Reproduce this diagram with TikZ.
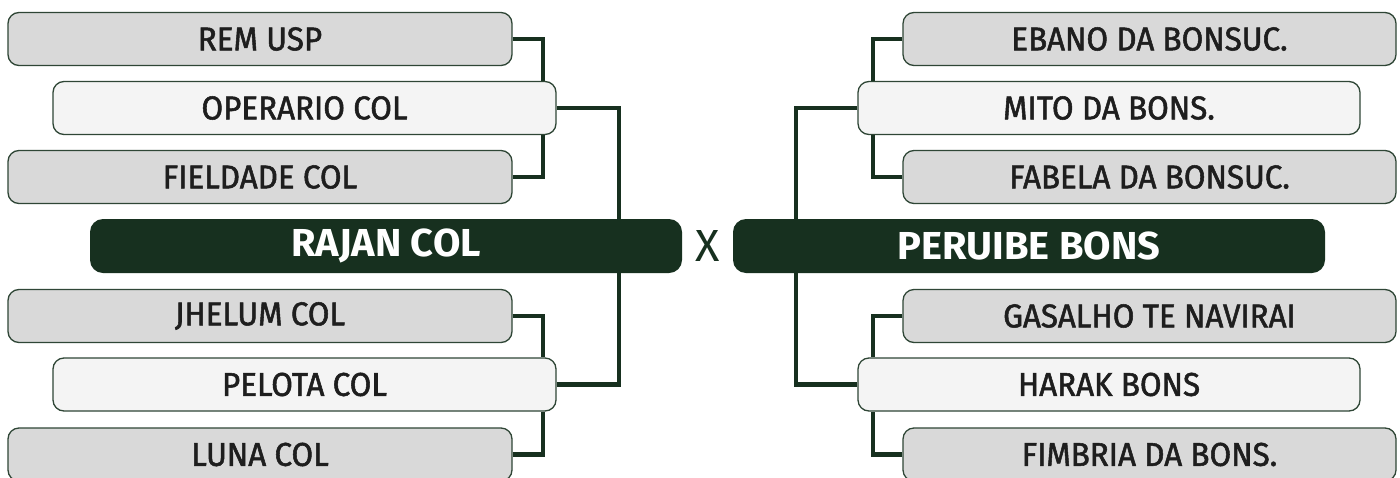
\documentclass[tikz,border=0pt]{standalone}
\usepackage{fontspec}
\setmainfont{Fira Sans}
\newfontfamily\medf{Fira Sans}[FakeStretch=0.95, FakeBold=1.6]
\newfontfamily\boldf{Fira Sans}[FakeStretch=1.02]
\definecolor{dkgreen}{HTML}{17301F}
\definecolor{boxgray}{HTML}{D9D9D9}
\definecolor{boxlight}{HTML}{F4F4F4}
\definecolor{boxline}{HTML}{2F4636}
\definecolor{txt}{HTML}{1E1E1E}
\tikzset{
  team/.style={draw=boxline, line width=1.3pt, rounded corners=11pt, minimum height=53pt,
    inner sep=0pt, text=txt, font=\medf\fontsize{33}{33}\selectfont},
  outer/.style={team, fill=boxgray},
  middle/.style={team, fill=boxlight},
  final/.style={fill=dkgreen, rounded corners=13pt, minimum height=54pt, inner sep=0pt,
    text=white, font=\boldf\bfseries\fontsize{39}{39}\selectfont},
  conn/.style={draw=dkgreen, line width=4.8pt, line join=miter}
}
\begin{document}
\begin{tikzpicture}[x=1pt,y=-1pt]
\useasboundingbox (0,0) rectangle (1400,477);
\fill[white] (0,0) rectangle (1400,477);
\clip (0,0) rectangle (1400,477);
% left side
\node[outer, minimum width=504pt] (rem) at (260,39) {REM USP};
\node[middle, minimum width=503pt] (ope) at (304.5,108) {OPERARIO COL};
\node[outer, minimum width=504pt] (fie) at (260,177) {FIELDADE COL};
\node[final, minimum width=592pt] (raj) at (386,246) {RAJAN COL};
\node[outer, minimum width=504pt] (jhe) at (260,316) {JHELUM COL};
\node[middle, minimum width=503pt] (pel) at (304.5,384.5) {PELOTA COL};
\node[outer, minimum width=504pt] (lun) at (260,454.5) {LUNA COL};
% right side
\node[outer, minimum width=493pt] (eba) at (1149.5,39) {EBANO DA BONSUC.};
\node[middle, minimum width=502pt] (mit) at (1109,108) {MITO DA BONS.};
\node[outer, minimum width=493pt] (fab) at (1149.5,177) {FABELA DA BONSUC.};
\node[final, minimum width=592pt] (per) at (1029,246) {PERUIBE BONS};
\node[outer, minimum width=493pt] (gas) at (1149.5,316) {GASALHO TE NAVIRAI};
\node[middle, minimum width=502pt] (har) at (1109,384.5) {HARAK BONS};
\node[outer, minimum width=493pt] (fim) at (1149.5,454.5) {FIMBRIA DA BONS.};
% versus
\node[text=dkgreen, font=\fontsize{45}{45}\selectfont, inner sep=0pt] (vs) at (708,246) {X};
% bracket columns
\coordinate (lb) at (543,0);
\coordinate (lm) at (619,0);
\coordinate (rb) at (873,0);
\coordinate (rm) at (796,0);
% connectors left
\draw[conn] (rem.east) -| (lb |- ope.north);
\draw[conn] (fie.east) -| (lb |- ope.south);
\draw[conn] (ope.east) -| (lm |- raj.north);
\draw[conn] (jhe.east) -| (lb |- pel.north);
\draw[conn] (lun.east) -| (lb |- pel.south);
\draw[conn] (pel.east) -| (lm |- raj.south);
% connectors right
\draw[conn] (eba.west) -| (rb |- mit.north);
\draw[conn] (fab.west) -| (rb |- mit.south);
\draw[conn] (mit.west) -| (rm |- per.north);
\draw[conn] (gas.west) -| (rb |- har.north);
\draw[conn] (fim.west) -| (rb |- har.south);
\draw[conn] (har.west) -| (rm |- per.south);
\end{tikzpicture}
\end{document}
